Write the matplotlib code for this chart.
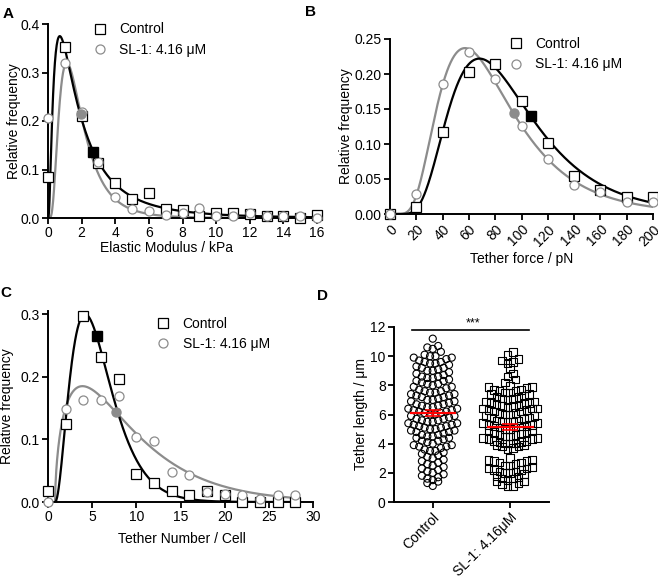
import numpy as np
import matplotlib.pyplot as plt

plt.rcParams['font.family'] = ['Liberation Sans', 'DejaVu Sans']

GRAY = '#8c8c8c'

# ---- Panel A: elastic modulus histogram ----
modulus_x = [0, 1, 2, 3, 4, 5, 6, 7, 8, 9, 10, 11, 12, 13, 14, 15, 16]
modulus_ctrl = [0.085, 0.352, 0.21, 0.113, 0.072, 0.039, 0.051, 0.018, 0.016, 0.005,
                0.011, 0.011, 0.008, 0.005, 0.005, 0.0, 0.007]
modulus_sl1 = [0.206, 0.319, 0.219, 0.115, 0.044, 0.019, 0.014, 0.006, 0.011, 0.02,
               0.005, 0.005, 0.01, 0.005, 0.005, 0.005, 0.0]
modulus_mean = [2.7, 1.95]          # control, SL-1 (filled markers)
modulus_fit_ctrl = (0.375, 0.70, 0.95)   # peak, mode, log sd
modulus_fit_sl1 = (0.32, 1.12, 0.62)

# ---- Panel B: tether force histogram ----
force_x = [0, 20, 40, 60, 80, 100, 120, 140, 160, 180, 200]
force_ctrl = [0.0, 0.010, 0.117, 0.203, 0.215, 0.161, 0.102, 0.055, 0.035, 0.024, 0.024]
force_sl1 = [0.0, 0.028, 0.186, 0.232, 0.193, 0.126, 0.078, 0.042, 0.031, 0.017, 0.017]
force_mean = [107, 94]
force_fit_ctrl = (0.222, 68, 0.47)
force_fit_sl1 = (0.237, 57, 0.50)

# ---- Panel C: tether number histogram ----
number_x = [0, 2, 4, 6, 8, 10, 12, 14, 16, 18, 20, 22, 24, 26, 28]
number_ctrl = [0.017, 0.124, 0.297, 0.231, 0.196, 0.045, 0.03, 0.017, 0.011, 0.017,
               0.011, 0.0, 0.0, 0.0, 0.0]
number_sl1 = [0.0, 0.148, 0.163, 0.163, 0.169, 0.104, 0.098, 0.048, 0.043, 0.016,
              0.012, 0.011, 0.005, 0.011, 0.011]
number_mean = [5.5, 7.7]
number_fit_ctrl = (0.30, 3.4, 2.1, 0.8)   # peak, mode, shape, shift
number_fit_sl1 = (0.185, 3.1, 0.6, 0.8)

# ---- Panel D: tether length scatter ----
length_ctrl = [
    1.1, 1.3, 1.4, 1.5, 1.6, 1.7, 1.8, 1.9, 2.0, 2.1, 2.2, 2.3, 2.4, 2.5,
    2.6, 2.7, 2.8, 2.9, 3.0, 3.1, 3.2, 3.3, 3.4, 3.5, 3.5, 3.6, 3.7, 3.8, 3.8, 3.9, 3.9,
    4.0, 4.1, 4.2, 4.2, 4.3, 4.4, 4.4, 4.5, 4.6, 4.6, 4.7, 4.8, 4.8, 4.9, 4.9, 4.5,
    5.0, 5.1, 5.1, 5.2, 5.3, 5.3, 5.4, 5.5, 5.5, 5.6, 5.7, 5.7, 5.8, 5.9, 5.9, 5.2, 5.4, 5.6, 5.0,
    6.0, 6.1, 6.1, 6.2, 6.2, 6.3, 6.4, 6.4, 6.5, 6.5, 6.6, 6.7, 6.7, 6.8, 6.9, 6.9, 6.0, 6.3, 6.6,
    7.0, 7.1, 7.2, 7.2, 7.3, 7.4, 7.4, 7.5, 7.6, 7.6, 7.7, 7.8, 7.9, 7.9, 7.0, 7.5, 7.3,
    8.0, 8.1, 8.2, 8.3, 8.3, 8.4, 8.5, 8.6, 8.6, 8.7, 8.8, 8.9, 8.1, 8.5,
    9.0, 9.1, 9.2, 9.3, 9.4, 9.5, 9.5, 9.6, 9.7, 9.8, 9.9, 9.9, 9.2, 9.6, 9.0,
    10.0, 10.0, 10.1, 10.3, 10.5, 10.6, 10.7, 11.2]
length_sl1 = [
    1.1, 1.1, 1.2, 1.3, 1.4, 1.4, 1.5, 1.6, 1.7, 1.8, 1.9, 2.0, 2.0, 2.1, 2.2, 2.2,
    2.3, 2.3, 2.4, 2.5, 2.5, 2.6, 2.7, 2.7, 2.8, 2.8, 2.9, 2.9, 3.0, 1.6, 2.1,
    3.6, 3.7, 3.8, 3.8, 3.9, 3.9, 4.0, 4.0, 4.1, 4.1, 4.2, 4.2, 4.3, 4.4, 4.4, 4.5,
    4.5, 4.6, 4.6, 4.7, 4.8, 4.8, 4.9, 4.9, 4.0, 4.3,
    5.0, 5.0, 5.1, 5.1, 5.2, 5.2, 5.3, 5.3, 5.4, 5.4, 5.5, 5.5, 5.6, 5.6, 5.7, 5.8,
    5.8, 5.9, 5.9, 5.2, 5.5,
    6.0, 6.0, 6.1, 6.2, 6.2, 6.3, 6.4, 6.4, 6.5, 6.6, 6.6, 6.7, 6.8, 6.9, 6.9, 6.3, 6.7,
    6.1, 6.5, 6.8, 6.4,
    7.0, 7.1, 7.2, 7.3, 7.4, 7.5, 7.5, 7.6, 7.7, 7.8, 7.9, 7.2, 7.6, 8.0,
    7.1, 7.4, 7.7, 7.9,
    8.2, 8.4, 8.6, 8.8, 9.2, 9.5, 9.6, 9.7, 9.8, 10.1, 10.3]
group_labels = ['Control', 'SL-1: 4.16\u03bcM']


def lognorm_curve(x, peak, mode, s):
    """Lognormal fit, parameterised by peak height and mode"""
    m = mode * np.exp(s ** 2)
    return peak * (mode / x) * np.exp(-0.5 * (np.log(x / m) / s) ** 2 + 0.5 * s ** 2)


def gamma_curve(x, peak, mode, k, shift):
    """Shifted gamma-type fit, parameterised by peak height and mode"""
    xs = np.clip(np.asarray(x, dtype=float) - shift, 0, None)
    return peak * (xs / mode) ** k * np.exp(k * (1 - xs / mode))


def style_axes(ax):
    for side in ['top', 'right']:
        ax.spines[side].set_visible(False)
    for side in ['left', 'bottom']:
        ax.spines[side].set_linewidth(1.4)
    ax.tick_params(direction='out', length=4, width=1.3, labelsize=10, pad=2)


def swarm_x(center, values, bin_w=0.5, step=0.07):
    """Spread points sideways within y bins, like a column scatter"""
    vals = np.asarray(values, dtype=float)
    xs = np.zeros(len(vals))
    bins = np.floor(vals / bin_w)
    for b in np.unique(bins):
        idx = np.where(bins == b)[0]
        idx = idx[np.argsort(vals[idx])]
        pos = (np.arange(len(idx)) - (len(idx) - 1) / 2) * step
        pos = sorted(pos, key=lambda p: (abs(p), p))
        xs[idx] = center + np.array(pos)
    return xs


def freq_panel(ax, x, ctrl, sl1, xfit, yfit_ctrl, yfit_sl1, mean_x, mean_y):
    ax.plot(xfit, yfit_sl1, color=GRAY, lw=1.6, zorder=2)
    ax.plot(xfit, yfit_ctrl, color='black', lw=1.6, zorder=2)
    ax.plot(x, ctrl, 's', ls='none', mfc='white', mec='black', ms=6.5, mew=0.9,
            clip_on=False, zorder=4, label='Control')
    ax.plot(x, sl1, 'o', ls='none', mfc='white', mec=GRAY, ms=6.5, mew=0.9,
            clip_on=False, zorder=5, label='SL-1: 4.16 \u03bcM')
    ax.plot(mean_x[0], mean_y[0], 's', color='black', ms=6.5, zorder=6, clip_on=False)
    ax.plot(mean_x[1], mean_y[1], 'o', color=GRAY, ms=6.5, zorder=6, clip_on=False)
    style_axes(ax)


def add_legend(ax, fig, x_px, y_px):
    ax.legend(loc='center left', bbox_to_anchor=(x_px / 658, 1 - y_px / 583),
              bbox_transform=fig.transFigure, frameon=False, fontsize=10,
              handlelength=1.0, handletextpad=0.9, labelspacing=0.45,
              borderpad=0, borderaxespad=0, numpoints=1)


fig = plt.figure(figsize=(6.58, 5.83), dpi=100)

# Panel A
axA = fig.add_axes([48 / 658, 1 - 218 / 583, 269 / 658, 194 / 583])
xa = np.linspace(0.01, 16, 600)
freq_panel(axA, modulus_x, modulus_ctrl, modulus_sl1, xa,
           lognorm_curve(xa, *modulus_fit_ctrl), lognorm_curve(xa, *modulus_fit_sl1),
           modulus_mean,
           [lognorm_curve(modulus_mean[0], *modulus_fit_ctrl),
            lognorm_curve(modulus_mean[1], *modulus_fit_sl1)])
axA.set_xlim(0, 16)
axA.set_ylim(0, 0.4)
axA.set_xticks(range(0, 17, 2))
axA.set_yticks([0, 0.1, 0.2, 0.3, 0.4])
axA.set_yticklabels(['0.0', '0.1', '0.2', '0.3', '0.4'])
axA.set_xlabel('Elastic Modulus / kPa', fontsize=10)
axA.set_ylabel('Relative frequency', fontsize=10)
axA.xaxis.set_label_coords(0.439, -0.12)
axA.yaxis.set_label_coords(-0.10, 0.5)
add_legend(axA, fig, 93, 39.5)

# Panel B
axB = fig.add_axes([390 / 658, 1 - 214 / 583, 263 / 658, 175 / 583])
xb = np.linspace(0.5, 200, 600)
freq_panel(axB, force_x, force_ctrl, force_sl1, xb,
           lognorm_curve(xb, *force_fit_ctrl), lognorm_curve(xb, *force_fit_sl1),
           force_mean,
           [lognorm_curve(force_mean[0], *force_fit_ctrl),
            lognorm_curve(force_mean[1], *force_fit_sl1)])
axB.set_xlim(0, 200)
axB.set_ylim(0, 0.25)
axB.set_xticks(range(0, 201, 20))
axB.set_xticklabels([str(v) for v in range(0, 201, 20)], rotation=45,
                    ha='right', rotation_mode='anchor')
axB.set_yticks([0, 0.05, 0.10, 0.15, 0.20, 0.25])
axB.set_yticklabels(['0.00', '0.05', '0.10', '0.15', '0.20', '0.25'])
axB.set_xlabel('Tether force / pN', fontsize=10)
axB.set_ylabel('Relative frequency', fontsize=10)
axB.xaxis.set_label_coords(0.50, -0.215)
axB.yaxis.set_label_coords(-0.141, 0.5)
add_legend(axB, fig, 509, 54.3)

# Panel C
axC = fig.add_axes([48 / 658, 1 - 502 / 583, 265 / 658, 191 / 583])
xc = np.linspace(0.8, 28, 600)
freq_panel(axC, number_x, number_ctrl, number_sl1, xc,
           gamma_curve(xc, *number_fit_ctrl), gamma_curve(xc, *number_fit_sl1),
           number_mean,
           [gamma_curve(number_mean[0], *number_fit_ctrl),
            gamma_curve(number_mean[1], *number_fit_sl1)])
axC.set_xlim(0, 30)
axC.set_ylim(0, 0.305)
axC.set_xticks(range(0, 31, 5))
axC.set_yticks([0, 0.1, 0.2, 0.3])
axC.set_yticklabels(['0.0', '0.1', '0.2', '0.3'])
axC.set_xlabel('Tether Number / Cell', fontsize=10)
axC.set_ylabel('Relative frequency', fontsize=10)
axC.xaxis.set_label_coords(0.505, -0.155)
axC.yaxis.set_label_coords(-0.127, 0.5)
add_legend(axC, fig, 156.3, 333.7)

# Panel D
axD = fig.add_axes([394 / 658, 1 - 502 / 583, 155 / 658, 175 / 583])
axD.scatter(swarm_x(0, length_ctrl), length_ctrl, s=26, marker='o',
            facecolors='none', edgecolors='black', linewidths=0.8, zorder=3)
axD.scatter(swarm_x(1, length_sl1), length_sl1, s=30, marker='s',
            facecolors='none', edgecolors='black', linewidths=0.8, zorder=3)
for i, vals in enumerate([length_ctrl, length_sl1]):
    m = np.mean(vals)
    sem = np.std(vals, ddof=1) / np.sqrt(len(vals))
    axD.hlines(m, i - 0.3, i + 0.3, color='red', lw=1.6, zorder=5)
    axD.errorbar(i, m, yerr=sem, color='red', lw=1.2, capsize=6, capthick=1.2, zorder=5)
axD.plot([-0.27, 1.24], [11.8, 11.8], color='black', lw=1.2, clip_on=False)
axD.text(0.515, 11.85, '***', ha='center', va='bottom', fontsize=9)
style_axes(axD)
axD.set_xlim(-0.5, 1.5)
axD.set_ylim(0, 12)
axD.set_yticks(range(0, 13, 2))
axD.set_xticks([0, 1])
axD.set_xticklabels(group_labels, rotation=45, ha='right', rotation_mode='anchor')
axD.set_ylabel('Tether length / \u03bcm', fontsize=10)
axD.yaxis.set_label_coords(-0.168, 0.5)

# panel letters
for letter, (px, py) in zip('ABCD', [(8, 14), (310, 12), (6, 293), (323, 296)]):
    fig.text(px / 658, 1 - py / 583, letter, fontsize=11, fontweight='bold',
             ha='center', va='center')

fig.savefig('out.png', dpi=100)
